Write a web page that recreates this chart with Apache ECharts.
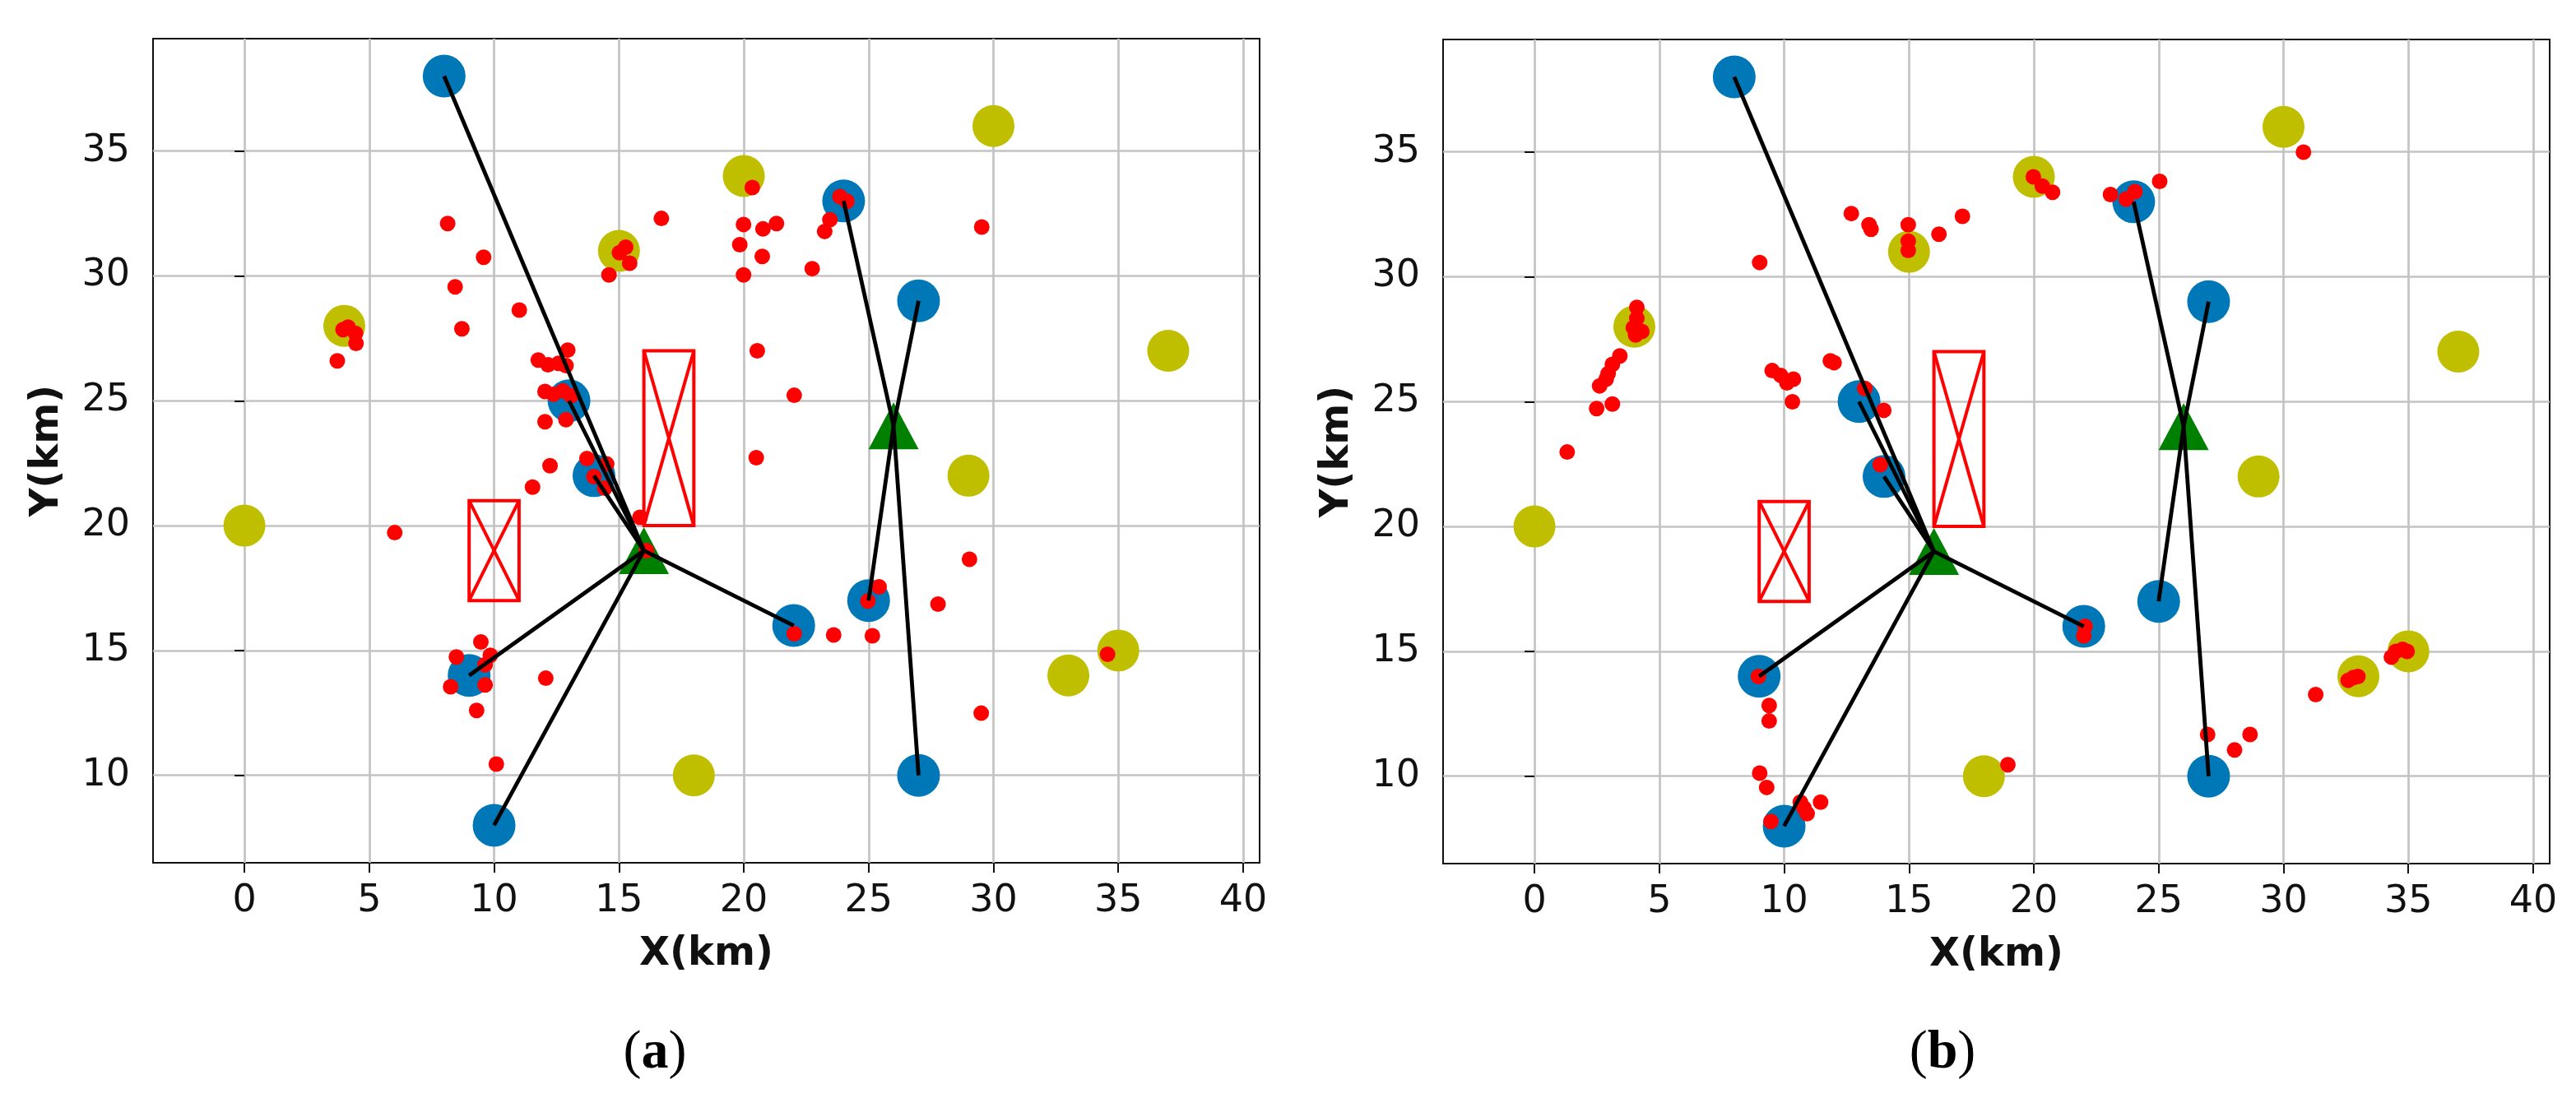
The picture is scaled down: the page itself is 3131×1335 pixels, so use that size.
<!DOCTYPE html>
<html>
<head>
<meta charset="utf-8">
<script src="https://cdn.jsdelivr.net/npm/echarts@6/dist/echarts.min.js"></script>
<style>
  html, body { margin: 0; padding: 0; background: #fff; }
  #chart { width: 3131px; height: 1335px; }
</style>
</head>
<body>
<div id="chart"></div>
<script>
// tick values shared by both panels
const xTicks = [0, 5, 10, 15, 20, 25, 30, 35, 40];
const yTicks = [10, 15, 20, 25, 30, 35];

// green triangles (hubs)
const hubs = [[16, 19], [26, 24]];
// blue circles and the hub each one is linked to
const facilities = [[8, 38], [13, 25], [14, 22], [9, 14], [10, 8], [22, 16], [24, 33], [27, 29], [25, 17], [27, 10]];
const facilityHub = [0, 0, 0, 0, 0, 0, 1, 1, 1, 1];
// yellow circles
const sites = [[0, 20], [4, 28], [15, 31], [20, 34], [30, 36], [37, 27], [29, 22], [33, 14], [35, 15], [18, 10]];
// red crossed boxes: [x0, y0, x1, y1]
const zones = [[9, 17, 11, 21], [16, 20, 18, 27]];

// red points, panel (a)
const pointsA = [
  [8.14, 32.1], [9.58, 30.75], [8.44, 29.56], [8.71, 27.88], [11.01, 28.63], [3.72, 26.6],
  [3.95, 27.85], [4.15, 27.95], [4.45, 27.7], [4.47, 27.3], [6.02, 19.72],
  [11.77, 26.63], [12.16, 26.44], [12.58, 26.5], [12.95, 27.03], [12.88, 26.41], [12.04, 25.37],
  [12.38, 25.26], [12.75, 25.4], [13.08, 25.2], [12.04, 24.16], [12.88, 24.24], [12.24, 22.4],
  [11.54, 21.54], [13.72, 22.69], [14.51, 22.47], [14.0, 21.96], [14.43, 21.5], [15.84, 20.33],
  [15.02, 30.93], [15.27, 31.15], [15.43, 30.51], [14.6, 30.04], [16.7, 32.3],
  [20.34, 33.54], [19.99, 32.06], [20.77, 31.88], [21.31, 32.1], [19.84, 31.25], [20.74, 30.78],
  [19.99, 30.04], [22.74, 30.29], [23.45, 32.25], [23.24, 31.78], [23.85, 33.18], [24.13, 32.99],
  [29.53, 31.96], [20.54, 27.0], [22.02, 25.22], [20.5, 22.72],
  [16.1, 19.0], [29.04, 18.65], [25.42, 17.55], [24.97, 16.98], [27.78, 16.86], [22.02, 15.67],
  [23.6, 15.62], [25.15, 15.59], [34.57, 14.85], [29.51, 12.49],
  [9.47, 15.34], [8.49, 14.74], [9.85, 14.81], [9.64, 14.43], [8.26, 13.55], [9.64, 13.62],
  [9.3, 12.6], [10.09, 10.45], [12.07, 13.89]
];

// red points, panel (b)
const pointsB = [
  [12.69, 32.53], [13.4, 32.08], [13.48, 31.9], [14.97, 32.08], [14.97, 31.42], [14.97, 31.05],
  [16.2, 31.7], [17.14, 32.42], [9.02, 30.57],
  [4.1, 28.77], [4.1, 28.33], [3.96, 27.96], [4.3, 27.81], [4.05, 27.67],
  [3.42, 26.83], [3.12, 26.49], [2.95, 26.12], [2.87, 25.9], [2.61, 25.63], [3.12, 24.9],
  [2.49, 24.72], [1.31, 22.98],
  [9.52, 26.24], [9.86, 26.05], [10.37, 25.9], [10.11, 25.75], [10.33, 24.99],
  [11.85, 26.63], [12.0, 26.56], [13.23, 25.53], [13.99, 24.65], [13.85, 22.47],
  [19.98, 34.0], [20.34, 33.63], [20.75, 33.38], [23.07, 33.29], [23.7, 33.11], [24.05, 33.41],
  [25.04, 33.82], [30.8, 34.99],
  [8.97, 13.99], [9.4, 12.83], [9.4, 12.21], [9.02, 10.12], [9.3, 9.55],
  [10.65, 8.96], [10.79, 8.73], [10.92, 8.5], [11.46, 8.96], [9.47, 8.19],
  [22.05, 16.0], [22.0, 15.62], [18.96, 10.46],
  [26.96, 11.67], [28.66, 11.67], [28.04, 11.05], [31.29, 13.27],
  [32.59, 13.84], [32.8, 13.95], [32.98, 13.99],
  [34.32, 14.77], [34.5, 15.0], [34.77, 15.08], [34.95, 15.0]
];

const panels = [pointsA, pointsB];
const captions = ['a', 'b'];

const chart = echarts.init(document.getElementById('chart'), null, { renderer: 'canvas' });

const fontFamily = "'DejaVu Sans', sans-serif";
const ink = '#111';
const gridColor = '#c3c3c3';
const gridRects = [
  { left: 186, top: 47, width: 1345, height: 1002 },
  { left: 1754, top: 48, width: 1345, height: 1002 },
];
const captionPos = [[796, 1281], [2361, 1281]];

const links = facilities.map((f, i) => ({ coords: [hubs[facilityHub[i]], f] }));

const grid = gridRects.map((r) => ({
  ...r,
  show: true,
  borderColor: ink,
  borderWidth: 2,
  backgroundColor: '#fff',
  containLabel: false,
}));

const xAxis = gridRects.map((r, i) => ({
  type: 'value',
  gridIndex: i,
  min: -3.66,
  max: 40.66,
  name: 'X(km)',
  nameLocation: 'middle',
  nameGap: 88,
  nameTextStyle: { fontFamily, fontSize: 48, fontWeight: 'bold', color: ink },
  axisLine: { show: false },
  axisTick: { show: true, length: 12, lineStyle: { color: ink, width: 2 }, customValues: xTicks },
  axisLabel: { fontFamily, fontSize: 46, color: ink, margin: 24, customValues: xTicks },
  splitLine: { show: true, lineStyle: { color: gridColor, width: 2.7 } },
}));

const yAxis = gridRects.map((r, i) => ({
  type: 'value',
  gridIndex: i,
  min: 6.5,
  max: 39.5,
  name: 'Y(km)',
  nameLocation: 'middle',
  nameRotate: 90,
  nameGap: 104,
  nameTextStyle: { fontFamily, fontSize: 48, fontWeight: 'bold', color: ink },
  axisLine: { show: false },
  axisTick: { show: true, length: 12, lineStyle: { color: ink, width: 2 }, customValues: yTicks },
  axisLabel: { fontFamily, fontSize: 46, color: ink, margin: 28, customValues: yTicks },
  splitLine: { show: true, lineStyle: { color: gridColor, width: 2.7 } },
}));

const series = [];
panels.forEach((pts, i) => {
  const idx = { xAxisIndex: i, yAxisIndex: i };
  series.push({
    type: 'scatter', ...idx, z: 2, silent: true,
    data: sites, symbolSize: 51,
    itemStyle: { color: '#bfbf00', opacity: 1 },
  });
  series.push({
    type: 'scatter', ...idx, z: 3, silent: true,
    data: facilities, symbolSize: 52,
    itemStyle: { color: '#0077b6', opacity: 1 },
  });
  series.push({
    type: 'scatter', ...idx, z: 4, silent: true,
    data: hubs, symbol: 'triangle', symbolSize: [61, 57],
    itemStyle: { color: '#008000', opacity: 1 },
  });
  // crossed boxes
  series.push({
    type: 'custom', ...idx, z: 5, silent: true,
    data: zones,
    encode: { x: [0, 2], y: [1, 3] },
    renderItem: (params, api) => {
      const a = api.coord([api.value(0), api.value(1)]);
      const b = api.coord([api.value(2), api.value(3)]);
      const x = Math.min(a[0], b[0]);
      const y = Math.min(a[1], b[1]);
      const w = Math.abs(b[0] - a[0]);
      const h = Math.abs(b[1] - a[1]);
      const style = { stroke: '#ff0000', lineWidth: 4, fill: 'none' };
      return {
        type: 'group',
        children: [
          { type: 'rect', shape: { x, y, width: w, height: h }, style },
          { type: 'line', shape: { x1: x, y1: y, x2: x + w, y2: y + h }, style },
          { type: 'line', shape: { x1: x + w, y1: y, x2: x, y2: y + h }, style },
        ],
      };
    },
  });
  series.push({
    type: 'scatter', ...idx, z: 6, silent: true,
    data: pts, symbolSize: 19,
    itemStyle: { color: '#ff0000', opacity: 1 },
  });
  series.push({
    type: 'lines', coordinateSystem: 'cartesian2d', ...idx, z: 7, silent: true,
    data: links,
    lineStyle: { color: '#000', width: 4.8, opacity: 1, curveness: 0 },
  });
});

const graphic = captions.map((c, i) => ({
  type: 'text',
  x: captionPos[i][0],
  y: captionPos[i][1],
  style: {
    text: '{p|(}{b|' + c + '}{p|)}',
    align: 'center',
    verticalAlign: 'middle',
    rich: {
      p: { fontFamily: "'Liberation Serif', serif", fontSize: 66, fill: '#000' },
      b: { fontFamily: "'Liberation Serif', serif", fontSize: 66, fontWeight: 'bold', fill: '#000' },
    },
  },
}));

chart.setOption({
  animation: false,
  backgroundColor: '#fff',
  textStyle: { fontFamily },
  grid,
  xAxis,
  yAxis,
  series,
  graphic,
});
</script>
</body>
</html>
